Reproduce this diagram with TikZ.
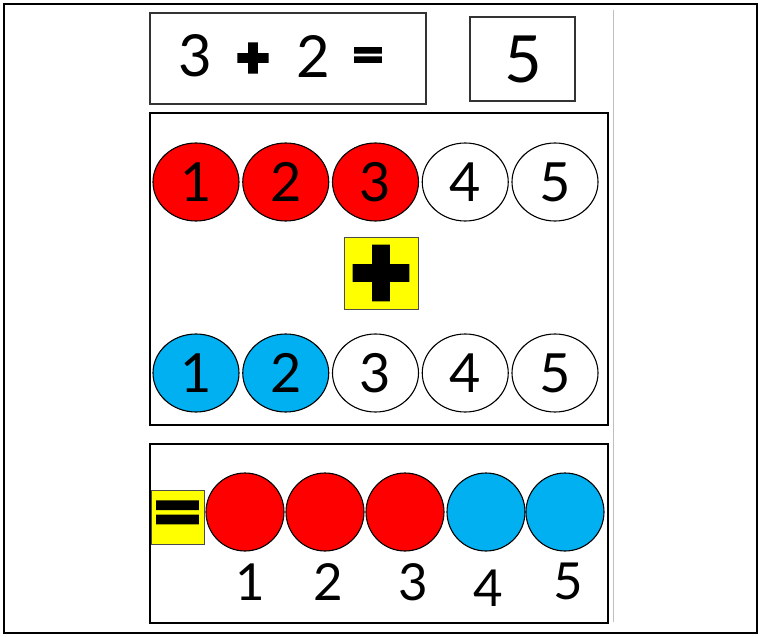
\documentclass[tikz,border=0pt]{standalone}
\usepackage{fontspec}
\setmainfont{Lato}
\newfontfamily\heavyfont{DejaVu Sans Bold}[FakeBold=12]
\newfontfamily\eqfont{DejaVu Sans Bold}[FakeBold=4]
\usepackage{tikz}
\usetikzlibrary{shapes.geometric, positioning}

\definecolor{beadred}{HTML}{FF0000}
\definecolor{beadblue}{HTML}{00B0F0}
\definecolor{signyellow}{HTML}{FFFF00}

\tikzset{
  bead/.style={ellipse, draw=black, line width=1.1pt, minimum width=86pt, minimum height=78pt, inner sep=0pt, font=\fontsize{54}{54}\selectfont},
  counter/.style={circle, draw=black, line width=1.1pt, minimum size=78pt, inner sep=0pt},
  signbox/.style={draw=black!70, fill=signyellow, line width=0.8pt, inner sep=0pt},
  digit/.style={inner sep=0pt, font=\fontsize{#1}{#1}\selectfont},
  sign/.style={inner sep=0pt, font=\heavyfont\fontsize{#1}{#1}\selectfont},
  eqsign/.style={inner sep=0pt, font=\eqfont\fontsize{#1}{#1}\selectfont}
}

\begin{document}
\begin{tikzpicture}[x=1pt, y=-1pt]
\useasboundingbox (0,0) rectangle (761,637);
\draw[line width=2.5pt] (4,4) rectangle (757,633);
\draw[black!25, line width=0.6pt] (613,10) -- (613,622);
% sum line
\draw[black!80, line width=1.2pt] (150,13) rectangle (426,104);
\draw[black!80, line width=1.2pt] (470,17) rectangle (575,101);
\node[digit=58] (s3) at (195,56) {3};
\node[sign=42] (splus) at (253,58) {+};
\node[digit=58] (s2) at (313,56) {2};
\node[eqsign=42] (seq) at (368,58) {=};
\node[digit=65] (res) at (523,59) {5};
% the two addends
\draw[line width=2.6pt] (150,113) rectangle (608,425);
\foreach \n/\c in {1/beadred,2/beadred,3/beadred,4/white,5/white}
  \node[bead, fill=\c] (a\n) at ({196+89.75*(\n-1)},182) {\n};
\node[signbox, minimum width=74pt, minimum height=72pt] (plusbox) at (381,273) {};
\node[sign=76] (plus) at (plusbox) {+};
\foreach \n/\c in {1/beadblue,2/beadblue,3/white,4/white,5/white}
  \node[bead, fill=\c] (b\n) at ({196+89.75*(\n-1)},373) {\n};
% the total
\draw[line width=2.6pt] (150,444) rectangle (608,623);
\node[signbox, minimum width=53pt, minimum height=54pt] (eqbox) at (177.5,517) {};
\node[eqsign=64] (eq) at (eqbox) {=};
\foreach \n/\c/\x in {1/beadred/245,2/beadred/325,3/beadred/405,4/beadblue/486,5/beadblue/565}
  \node[counter, fill=\c] (c\n) at (\x,512) {};
\foreach \n/\x/\y in {1/250/582,2/328/582,3/413/582,4/488/588,5/568/581}
  \node[digit=51] (t\n) at (\x,\y) {\n};
\end{tikzpicture}
\end{document}
